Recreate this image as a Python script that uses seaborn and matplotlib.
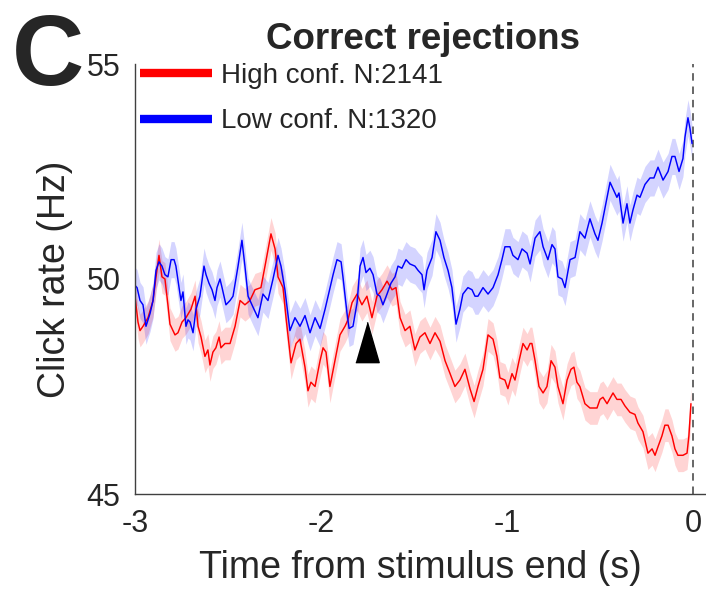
import numpy as np
import pandas as pd
import seaborn as sns
import matplotlib
matplotlib.use("Agg")
import matplotlib.pyplot as plt
from matplotlib.lines import Line2D

# ---- data: mean click rate (Hz) vs time from stimulus end (s) ----
high_t = [-3.000, -2.984, -2.973, -2.957, -2.930, -2.903, -2.887, -2.871, -2.855, -2.839,
          -2.823, -2.812, -2.785, -2.769, -2.747, -2.726, -2.699, -2.677, -2.661, -2.645,
          -2.624, -2.608, -2.597, -2.581, -2.565, -2.548, -2.538, -2.516, -2.489, -2.462,
          -2.435, -2.409, -2.382, -2.355, -2.323, -2.301, -2.269, -2.247, -2.231, -2.204,
          -2.188, -2.161, -2.134, -2.113, -2.086, -2.070, -2.054, -2.032, -2.005, -1.989,
          -1.973, -1.952, -1.925, -1.898, -1.871, -1.855, -1.833, -1.806, -1.780, -1.753,
          -1.726, -1.699, -1.672, -1.645, -1.618, -1.597, -1.575, -1.548, -1.522, -1.495,
          -1.468, -1.441, -1.414, -1.387, -1.360, -1.333, -1.306, -1.280, -1.253, -1.226,
          -1.199, -1.177, -1.156, -1.129, -1.102, -1.075, -1.054, -1.038, -1.011, -0.995,
          -0.973, -0.957, -0.935, -0.914, -0.892, -0.876, -0.866, -0.849, -0.828, -0.806,
          -0.785, -0.763, -0.742, -0.726, -0.699, -0.677, -0.656, -0.640, -0.624, -0.608,
          -0.581, -0.554, -0.516, -0.500, -0.484, -0.462, -0.430, -0.409, -0.387, -0.366,
          -0.339, -0.312, -0.296, -0.269, -0.242, -0.220, -0.204, -0.188, -0.167, -0.151,
          -0.134, -0.113, -0.097, -0.081, -0.054, -0.032, -0.022, -0.011]
high_rate = [49.6, 49.0, 48.8, 48.9, 49.1, 49.5, 50.05, 50.55, 50.05, 50.0,
             49.4, 48.95, 48.7, 48.75, 49.0, 49.1, 49.3, 49.6, 48.9, 48.65,
             48.2, 48.35, 48.0, 48.3, 48.4, 48.65, 48.4, 48.5, 48.5, 48.9,
             49.5, 49.4, 49.5, 49.75, 49.8, 50.3, 51.05, 50.7, 50.05, 49.8,
             49.1, 48.05, 48.5, 48.6, 47.95, 47.4, 47.6, 47.5, 48.1, 48.4,
             48.3, 47.5, 48.1, 48.7, 48.9, 49.05, 49.45, 49.65, 49.4, 49.6,
             49.1, 49.6, 49.75, 49.95, 49.75, 49.8, 49.1, 48.8, 48.9, 48.35,
             48.65, 48.75, 48.5, 48.75, 48.55, 48.1, 47.8, 47.5, 47.65, 47.9,
             47.45, 47.15, 47.5, 47.9, 48.7, 48.6, 48.2, 47.7, 47.65, 47.45,
             47.8, 47.65, 48.1, 48.5, 48.35, 48.5, 48.5, 48.1, 47.5, 47.35,
             47.5, 48.1, 47.95, 47.5, 47.1, 47.65, 47.9, 47.95, 47.6, 47.5,
             47.1, 47.0, 47.0, 47.2, 47.25, 47.1, 47.35, 47.2, 47.2, 47.05,
             46.9, 46.85, 46.65, 46.45, 45.95, 46.05, 45.9, 46.1, 46.35, 46.6,
             46.6, 46.35, 46.05, 45.9, 45.9, 45.95, 46.35, 47.1]
high_sem = 0.38

low_t = [-3.000, -2.989, -2.973, -2.957, -2.941, -2.919, -2.903, -2.887, -2.871, -2.855,
         -2.839, -2.823, -2.806, -2.790, -2.780, -2.763, -2.753, -2.742, -2.726, -2.715,
         -2.704, -2.688, -2.672, -2.651, -2.629, -2.618, -2.602, -2.586, -2.570, -2.559,
         -2.543, -2.532, -2.511, -2.489, -2.473, -2.446, -2.425, -2.409, -2.392, -2.366,
         -2.339, -2.312, -2.285, -2.258, -2.231, -2.215, -2.194, -2.167, -2.140, -2.113,
         -2.086, -2.059, -2.032, -2.005, -1.978, -1.962, -1.935, -1.914, -1.892, -1.882,
         -1.860, -1.849, -1.828, -1.806, -1.790, -1.774, -1.758, -1.737, -1.720, -1.699,
         -1.683, -1.667, -1.645, -1.624, -1.602, -1.586, -1.565, -1.543, -1.522, -1.495,
         -1.478, -1.457, -1.446, -1.430, -1.403, -1.382, -1.360, -1.339, -1.317, -1.296,
         -1.274, -1.253, -1.237, -1.210, -1.188, -1.172, -1.156, -1.129, -1.102, -1.075,
         -1.048, -1.027, -1.011, -0.984, -0.968, -0.941, -0.919, -0.892, -0.876, -0.849,
         -0.823, -0.806, -0.780, -0.758, -0.742, -0.726, -0.704, -0.688, -0.661, -0.634,
         -0.608, -0.581, -0.554, -0.527, -0.511, -0.489, -0.473, -0.446, -0.425, -0.409,
         -0.398, -0.376, -0.355, -0.339, -0.323, -0.301, -0.285, -0.258, -0.231, -0.210,
         -0.188, -0.161, -0.134, -0.113, -0.097, -0.075, -0.054, -0.043, -0.027, -0.016,
         -0.005]
low_rate = [49.85, 49.8, 49.5, 49.4, 48.9, 49.2, 49.5, 50.2, 50.4, 50.3,
            50.1, 50.05, 50.45, 50.45, 50.3, 49.8, 49.5, 49.7, 48.9, 49.05,
            49.0, 48.75, 49.3, 49.6, 50.3, 50.1, 49.9, 49.75, 49.5, 49.8,
            50.0, 49.8, 49.4, 49.5, 49.6, 50.3, 50.9, 50.3, 49.6, 49.35,
            49.1, 49.65, 49.5, 50.0, 50.55, 50.3, 49.75, 48.8, 49.1, 48.9,
            49.15, 48.75, 49.1, 48.85, 49.3, 49.6, 50.1, 50.45, 50.4, 50.05,
            49.2, 48.85, 48.9, 49.45, 50.3, 50.5, 50.15, 50.25, 50.1, 49.65,
            49.6, 49.4, 49.65, 49.9, 50.05, 50.3, 50.25, 50.45, 50.35, 50.3,
            50.2, 50.1, 49.75, 50.2, 50.5, 51.1, 50.9, 50.5, 50.2, 49.8,
            48.95, 49.3, 49.65, 49.8, 49.75, 49.6, 49.6, 49.8, 49.65, 49.8,
            50.1, 50.45, 50.75, 50.75, 50.55, 50.45, 50.7, 50.6, 50.35, 50.95,
            51.1, 50.75, 50.45, 50.8, 50.7, 50.05, 50.0, 49.8, 50.45, 50.5,
            51.1, 50.95, 51.4, 51.05, 50.9, 51.3, 51.65, 52.25, 52.05, 51.9,
            52.0, 51.3, 51.75, 51.3, 51.6, 51.95, 51.9, 52.2, 52.35, 52.35,
            52.6, 52.3, 52.5, 52.85, 52.85, 52.5, 52.8, 53.3, 53.75, 53.5,
            53.15]
low_sem = 0.42

labels = ["High conf. N:2141", "Low conf. N:1320"]
colors = ["#ff0000", "#0000ff"]

# marker showing the divergence time
divergence_t = [-1.753]
divergence_rate = [48.54]

# ---- build long table ----
df = pd.concat([
    pd.DataFrame({"time": high_t, "rate": high_rate, "group": labels[0]}),
    pd.DataFrame({"time": low_t, "rate": low_rate, "group": labels[1]}),
], ignore_index=True)

sns.set_style("white")
plt.rcParams["font.family"] = ["Liberation Sans", "DejaVu Sans"]
plt.rcParams["axes.unicode_minus"] = False

fig = plt.figure(figsize=(7.06, 5.99), dpi=100)
ax = fig.add_axes([135 / 706, 105 / 599, 571 / 706, 430 / 599])

# shaded SEM bands
ax.fill_between(high_t, np.array(high_rate) - high_sem, np.array(high_rate) + high_sem,
                color=colors[0], alpha=0.17, lw=0)
ax.fill_between(low_t, np.array(low_rate) - low_sem, np.array(low_rate) + low_sem,
                color=colors[1], alpha=0.17, lw=0)

sns.lineplot(data=df, x="time", y="rate", hue="group", palette=colors,
             hue_order=labels, sort=False, errorbar=None, estimator=None,
             linewidth=1.05, legend=False, ax=ax)

ax.axvline(0, color="0.3", ls=(0, (4.5, 3.5)), lw=1.2, zorder=1)

# divergence marker (narrow triangle)
tri = [(-0.58, -1.0), (0.58, -1.0), (0.0, 1.0)]
ax.plot(divergence_t, divergence_rate, ls="none", marker=tri, ms=29, color="black", zorder=5)

ax.set_xlim(-3, 0.07)
ax.set_ylim(45, 55)
ax.set_xticks([-3, -2, -1, 0])
ax.set_xticklabels(["-3", "-2", "-1", "0"])
ax.set_yticks([45, 50, 55])
ax.tick_params(axis="both", labelsize=22, direction="inout", length=5, width=0.9,
               color="0.25", pad=8)
ax.tick_params(axis="y", pad=8)
for side in ("top", "right"):
    ax.spines[side].set_visible(False)
for side in ("left", "bottom"):
    ax.spines[side].set_color("0.25")
    ax.spines[side].set_linewidth(1.0)

ax.set_xlabel("Time from stimulus end (s)", fontsize=27, labelpad=8)
ax.set_ylabel("Click rate (Hz)", fontsize=27, labelpad=10)

handles = [Line2D([], [], color=c, lw=6, solid_capstyle="butt") for c in colors]
ax.legend(handles, labels, loc="upper left", bbox_to_anchor=(140 / 706, 536 / 599),
          bbox_transform=fig.transFigure, frameon=False, fontsize=20,
          handlelength=2.6, handletextpad=0.3, labelspacing=0.7,
          borderpad=0, borderaxespad=0)

fig.text(423 / 706, 550 / 599, "Correct rejections", fontsize=26.5, fontweight="bold",
         ha="center", va="baseline")
fig.text(12 / 706, 514 / 599, "C", fontsize=72, fontweight="bold", ha="left", va="baseline")

fig.savefig("out.png", dpi=100)
